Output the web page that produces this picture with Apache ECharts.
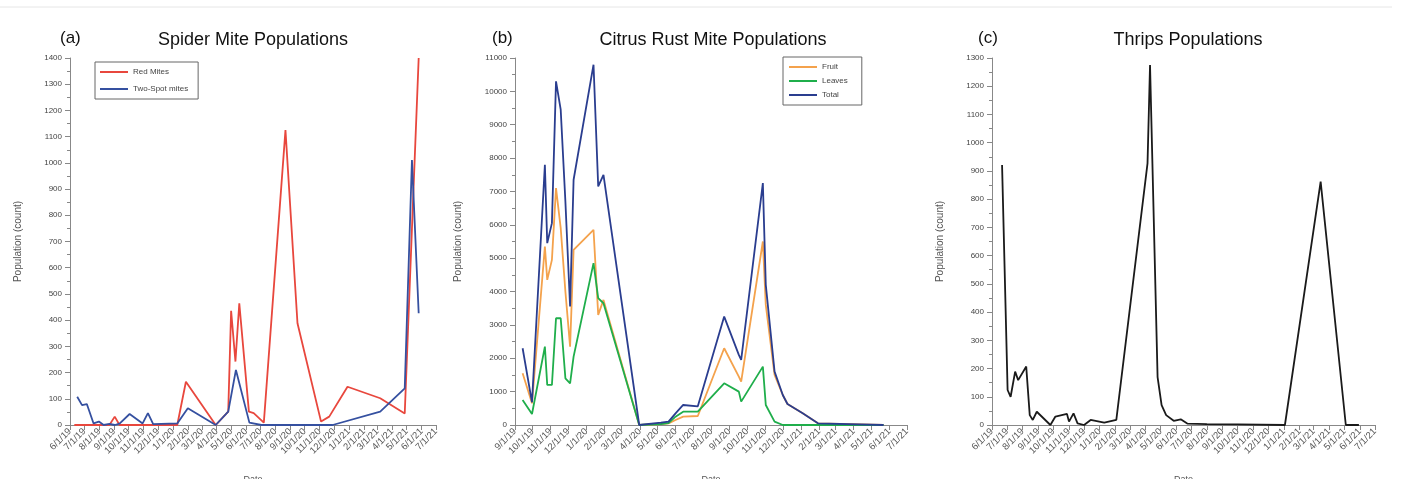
<!DOCTYPE html>
<html>
<head>
<meta charset="utf-8">
<script src="https://cdn.jsdelivr.net/npm/echarts@6/dist/echarts.min.js"></script>
<style>
html,body{margin:0;padding:0;background:#fff;}
#c{width:1402px;height:479px;}
</style>
</head>
<body>
<div id="c"></div>
<script>
// ---- Panel (a) Spider mites ----
const redDates = ['2019-06-10','2019-08-22','2019-09-02','2019-09-12','2020-01-10','2020-01-28','2020-03-30','2020-04-25','2020-05-01','2020-05-10','2020-05-18','2020-06-07','2020-06-17','2020-07-08','2020-08-22','2020-09-16','2020-11-04','2020-11-21','2020-12-29','2021-03-07','2021-04-27','2021-05-12','2021-05-26'];
const redVals  = [0,0,32,0,0,165,0,51,436,242,464,51,45,9,1125,388,13,32,146,102,44,750,1400];
const blueDates = ['2019-06-16','2019-06-26','2019-07-06','2019-07-20','2019-07-31','2019-08-10','2019-08-22','2019-09-02','2019-09-12','2019-10-03','2019-10-30','2019-11-10','2019-11-21','2020-01-10','2020-02-01','2020-03-30','2020-04-25','2020-05-11','2020-06-08','2020-07-03','2020-11-28','2021-03-07','2021-04-27','2021-05-12','2021-05-26'];
const blueVals  = [108,76,80,6,13,0,4,0,5,42,6,45,3,6,64,0,51,210,9,0,0,51,140,1011,426];

// ---- Panel (b) Citrus rust mites ----
const rustDates = ['2019-09-14','2019-09-30','2019-10-22','2019-10-26','2019-11-03','2019-11-10','2019-11-18','2019-11-26','2019-12-04','2019-12-10','2020-01-13','2020-01-21','2020-01-30','2020-03-31','2020-05-07','2020-05-20','2020-06-01','2020-06-14','2020-07-09','2020-08-23','2020-09-17','2020-09-21','2020-10-28','2020-11-02','2020-11-17','2020-12-01','2020-12-09','2021-01-04','2021-01-30','2021-05-22'];
const fruitVals  = [1550,650,5350,4350,4950,7100,5900,4000,2350,5250,5850,3300,3750,0,30,50,150,250,270,2300,1450,1300,5500,3600,1500,900,630,350,50,0];
const leavesVals = [750,330,2350,1200,1200,3200,3200,1400,1250,2050,4850,3800,3650,0,30,60,250,400,400,1250,1000,700,1750,600,100,0,0,0,0,0];
const totalVals  = [2300,680,7800,5450,6050,10300,9450,6700,3550,7350,10800,7150,7500,0,70,100,350,600,560,3250,2100,1950,7250,4200,1600,900,630,350,50,0];

// ---- Panel (c) Thrips ----
const thripsDates = ['2019-06-21','2019-07-02','2019-07-08','2019-07-17','2019-07-23','2019-08-08','2019-08-15','2019-08-21','2019-08-29','2019-09-25','2019-10-05','2019-10-28','2019-11-01','2019-11-10','2019-11-18','2019-12-01','2019-12-14','2020-01-10','2020-02-03','2020-04-05','2020-04-10','2020-04-25','2020-05-03','2020-05-12','2020-05-27','2020-06-10','2020-06-23','2020-08-01','2020-10-01','2021-01-03','2021-03-15','2021-05-04','2021-05-30'];
const thripsVals  = [921,124,100,189,159,207,35,18,47,0,30,39,12,41,6,0,18,8,18,927,1275,170,70,35,15,20,5,3,2,0,862,0,0];

const titles = ['Spider Mite Populations','Citrus Rust Mite Populations','Thrips Populations'];
const panelTags = ['(a)','(b)','(c)'];
const yMax = [1400, 11000, 1300];
const yStep = [100, 1000, 100];
const xMin = ['2019-06-01','2019-09-01','2019-06-01'];
const xMax = ['2021-07-01','2021-07-01','2021-07-01'];

const zip = (d, v) => d.map((x, i) => [x, v[i]]);
const FONT = 'Liberation Sans, Arial, sans-serif';

const grids = [
  {left: 70, top: 58, width: 366, height: 367, containLabel: false, outerBoundsMode: 'none'},
  {left: 515, top: 58, width: 392, height: 367, containLabel: false, outerBoundsMode: 'none'},
  {left: 992, top: 58, width: 383, height: 367, containLabel: false, outerBoundsMode: 'none'}
];

function fmtDate(v) {
  const d = new Date(v);
  return (d.getMonth() + 1) + '/' + d.getDate() + '/' + String(d.getFullYear()).slice(2);
}

const xAxes = grids.map((g, i) => ({
  type: 'time', gridIndex: i,
  min: xMin[i], max: xMax[i],
  minInterval: 28 * 864e5, maxInterval: 31 * 864e5,
  name: 'Date', nameLocation: 'middle', nameGap: 50,
  nameTextStyle: {fontSize: 9, color: '#555', fontFamily: FONT},
  axisLine: {lineStyle: {color: '#888', width: 1}},
  axisTick: {show: true, length: 5, lineStyle: {color: '#888'}},
  minorTick: {show: false},
  splitLine: {show: false},
  axisLabel: {rotate: 45, fontSize: 9.5, color: '#555', margin: 5, fontFamily: FONT,
    formatter: fmtDate, hideOverlap: false, showMinLabel: true, showMaxLabel: true}
}));

const yNameGap = [47, 52, 47];
const yAxes = grids.map((g, i) => ({
  type: 'value', gridIndex: i, min: 0, max: yMax[i], interval: yStep[i],
  name: 'Population (count)', nameLocation: 'middle', nameRotate: 90,
  nameGap: yNameGap[i],
  nameTextStyle: {fontSize: 10, color: '#555', fontFamily: FONT},
  axisLine: {show: true, lineStyle: {color: '#888', width: 1}},
  axisTick: {show: true, length: 5, lineStyle: {color: '#888'}},
  minorTick: {show: true, splitNumber: 2, length: 3, lineStyle: {color: '#888'}},
  splitLine: {show: false},
  axisLabel: {fontSize: 8, color: '#444', margin: 8, fontFamily: FONT,
    formatter: v => String(v)}
}));

const lineSeries = (name, data, color, xi) => ({
  name, type: 'line', xAxisIndex: xi, yAxisIndex: xi, data,
  showSymbol: false, symbol: 'none', smooth: false,
  lineStyle: {color, width: 1.8}, itemStyle: {color},
  animation: false
});

const series = [
  lineSeries('Red Mites', zip(redDates, redVals), '#e8473d', 0),
  lineSeries('Two-Spot mites', zip(blueDates, blueVals), '#3550a0', 0),
  lineSeries('Fruit', zip(rustDates, fruitVals), '#f4a24c', 1),
  lineSeries('Leaves', zip(rustDates, leavesVals), '#1fae4b', 1),
  lineSeries('Total', zip(rustDates, totalVals), '#2a3d8f', 1),
  lineSeries('Thrips', zip(thripsDates, thripsVals), '#1a1a1a', 2)
];

const titleCenters = [248, 708, 1183];
const tagLefts = [55, 487, 973];
const titleArr = [];
titles.forEach((t, i) => {
  titleArr.push({text: t, left: titleCenters[i], top: 26, textAlign: 'center',
    textStyle: {fontSize: 18, fontWeight: 'normal', color: '#111', fontFamily: FONT}});
  titleArr.push({text: panelTags[i], left: tagLefts[i], top: 25,
    textStyle: {fontSize: 17, fontWeight: 'normal', color: '#111', fontFamily: FONT}});
});

const legendCommon = {
  orient: 'vertical', icon: 'rect', itemWidth: 28, itemHeight: 2, itemGap: 9,
  borderColor: '#666', borderWidth: 1, borderRadius: 0,
  textStyle: {fontSize: 8, color: '#444', fontFamily: FONT},
  selectedMode: false
};

const option = {
  animation: false,
  backgroundColor: '#fff',
  title: titleArr,
  grid: grids,
  xAxis: xAxes,
  yAxis: yAxes,
  legend: [
    Object.assign({}, legendCommon, {data: ['Red Mites', 'Two-Spot mites'], left: 95, top: 62, padding: [6, 10, 6, 5]}),
    Object.assign({}, legendCommon, {data: ['Fruit', 'Leaves', 'Total'], left: 783, top: 57, padding: [6, 14, 6, 6], itemGap: 6})
  ],
  graphic: [{type: 'line', shape: {x1: 0, y1: 7, x2: 1392, y2: 7}, style: {stroke: '#e6e6e6', lineWidth: 1}}],
  series
};

const chart = echarts.init(document.getElementById('c'), null, {renderer: 'canvas'});
chart.setOption(option);
</script>
</body>
</html>
